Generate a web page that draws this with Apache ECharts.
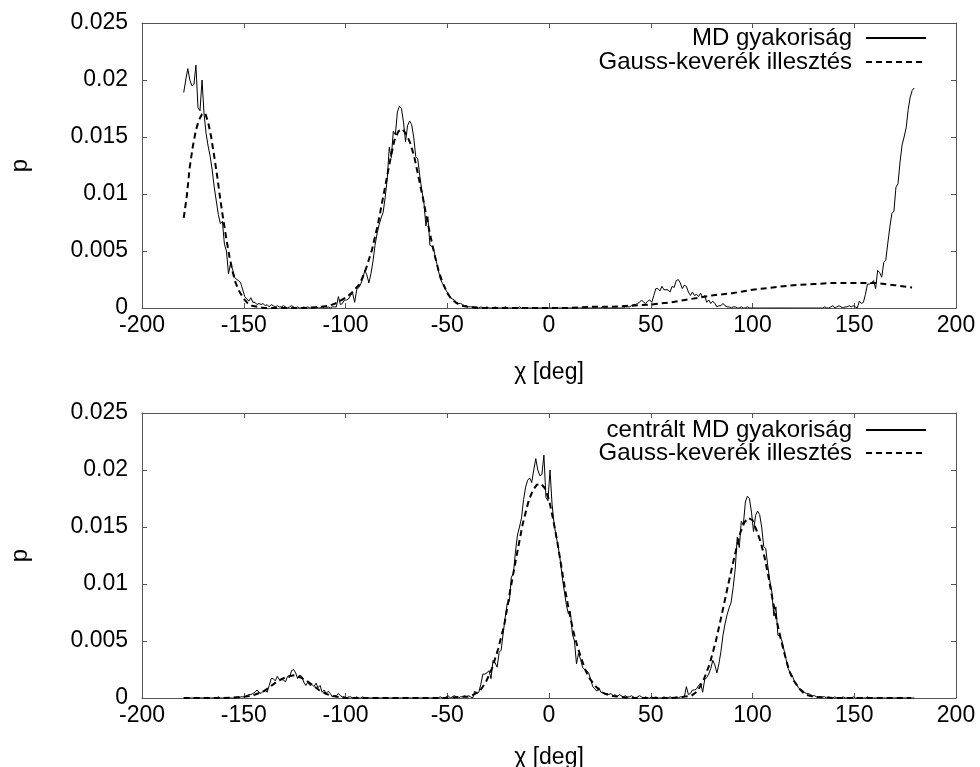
<!DOCTYPE html>
<html>
<head>
<meta charset="utf-8">
<title>χ szögeloszlás</title>
<script src="https://cdn.jsdelivr.net/npm/echarts@6/dist/echarts.min.js"></script>
<style>
  html, body { margin: 0; padding: 0; background: #fff; }
  #chart { width: 980px; height: 767px; }
</style>
</head>
<body>
<div id="chart"></div>
<script>
// Histogram of the chi dihedral from MD, 1 degree bins starting at -179.5
const binStart = -179.5;
const binWidth = 1;
const mdFreq = [
  /* -179.5 */ 0.0189,0.0200,0.0210,0.0200,0.0195,0.0196,0.0213,0.0176,0.0173,0.0200,
  /* -169.5 */ 0.0170,0.0153,0.0142,0.0133,0.0121,0.0106,0.0094,0.0082,0.0074,0.0076,
  /* -159.5 */ 0.0056,0.0050,0.0030,0.0039,0.0034,0.0027,0.0025,0.0024,0.0022,0.0016,
  /* -149.5 */ 0.0010,0.0008,0.0006,0.0009,0.0005,0.0005,0.0003,0.0004,0.0003,0.0004,
  /* -139.5 */ 0.0002,0.0003,0.0001,0.0003,0.0002,0.0001,0.0002,0.0001,0.0001,0.0002,
  /* -129.5 */ 0.0001,0,0.0001,0.0002,0.0001,0,0.0001,0,0,0.0001,
  /* -119.5 */ 0,0.0001,0,0,0,0.0001,0,0,0.0001,0,
  /* -109.5 */ 0,0.0001,0,0.0001,0.0001,0.0001,0.0010,0.0003,0.0004,0.0007,
  /*  -99.5 */ 0.0007,0.0008,0.0011,0.0013,0.0005,0.0016,0.0018,0.0021,0.0026,0.0033,
  /*  -89.5 */ 0.0029,0.0022,0.0030,0.0041,0.0055,0.0065,0.0073,0.0079,0.0084,0.0097,
  /*  -79.5 */ 0.0113,0.0141,0.0132,0.0155,0.0152,0.0172,0.0177,0.0175,0.0163,0.0146,
  /*  -69.5 */ 0.0160,0.0164,0.0161,0.0150,0.0133,0.0131,0.0116,0.0103,0.0093,0.0072,
  /*  -59.5 */ 0.0080,0.0055,0.0054,0.0050,0.0042,0.0034,0.0026,0.0022,0.0020,0.0015,
  /*  -49.5 */ 0.0013,0.0009,0.0008,0.0007,0.0005,0.0004,0.0004,0.0003,0.0002,0.0002,
  /*  -39.5 */ 0.0001,0.0001,0.0001,0.0001,0.0001,0,0.0001,0,0,0.0001,
  /*  -29.5 */ 0,0,0,0.0001,0,0,0,0,0.0001,0,
  /*  -19.5 */ 0,0,0,0,0,0.0001,0,0,0,0,
  /*   -9.5 */ 0,0,0,0,0,0,0,0,0,0,
  /*    0.5 */ 0,0,0,0,0,0,0,0,0,0,
  /*   10.5 */ 0,0,0,0,0,0,0,0,0,0,
  /*   20.5 */ 0,0,0,0,0,0,0.0001,0,0,0,
  /*   30.5 */ 0,0,0,0,0,0,0,0.0001,0.0001,0.0001,
  /*   40.5 */ 0.0002,0.0003,0.0003,0.0004,0.0005,0.0007,0.0005,0.0004,0.0006,0.0007,
  /*   50.5 */ 0.0005,0.0011,0.0017,0.0017,0.0015,0.0019,0.0016,0.0016,0.0016,0.0014,
  /*   60.5 */ 0.0019,0.0018,0.0024,0.0025,0.0022,0.0017,0.0020,0.0019,0.0014,0.0011,
  /*   70.5 */ 0.0014,0.0011,0.0012,0.0010,0.0013,0.0009,0.0011,0.0005,0.0007,0.0004,
  /*   80.5 */ 0.0006,0.0004,0.0001,0.0002,0.0002,0.0004,0.0002,0.0001,0.0001,0,
  /*   90.5 */ 0.0001,0.0001,0,0,0.0001,0,0,0.0001,0,0,
  /*  100.5 */ 0,0,0,0,0,0,0,0,0,0,
  /*  110.5 */ 0,0,0,0,0,0,0,0,0,0,
  /*  120.5 */ 0,0,0,0,0,0,0,0,0,0,
  /*  130.5 */ 0,0,0,0,0,0.0001,0,0,0.0001,0.0002,
  /*  140.5 */ 0,0.0001,0.0002,0.0001,0,0.0001,0.0001,0.0002,0.0001,0.0002,
  /*  150.5 */ 0.0001,0,0.0006,0.0004,0.0005,0.0012,0.0021,0.0021,0.0022,0.0024,
  /*  160.5 */ 0.0017,0.0033,0.0031,0.0027,0.0040,0.0042,0.0057,0.0071,0.0083,0.0085,
  /*  170.5 */ 0.0106,0.0109,0.0128,0.0143,0.0150,0.0158,0.0174,0.0185,0.0191,0.0193
];

// Centering: the same histogram rotated by this many degrees (periodic angle)
const centerShift = 171;

// Gaussian-mixture fit on the raw angle
const fitRawX = [-179.5,-178,-176.5,-175,-173.5,-172,-170.5,-169,-167.5,-166,-164.5,-163,-161.5,-160,-158.5,-157,-155.5,-154,-152,-150,-148,-146,-143,-140,-130,-120,-112,-108,-105,-102,-99,-96,-93,-90,-87,-84,-81,-78,-76,-74,-72,-70,-68,-66,-64,-62,-60,-58,-56,-54,-52,-50,-48,-46,-43,-40,-35,-25,-10,0,10,20,30,40,50,60,70,80,90,100,110,120,130,140,150,160,170,178.4];
const fitRawY = [0.0079,0.0098,0.0124,0.0142,0.0156,0.0165,0.0170,0.0171,0.0163,0.0150,0.0133,0.0115,0.0095,0.0077,0.0060,0.0045,0.0032,0.0022,0.0014,0.0008,0.0004,0.0002,0.0001,0,0,0,0.0001,0.0002,0.0004,0.0007,0.0010,0.0015,0.0021,0.0034,0.0051,0.0074,0.0102,0.0130,0.0147,0.0155,0.0157,0.0152,0.0144,0.0131,0.0114,0.0097,0.0078,0.0061,0.0045,0.0031,0.0021,0.0013,0.0008,0.0005,0.0002,0.0001,0,0,0,0,0,0.0001,0.0001,0.0002,0.0003,0.0005,0.0008,0.0011,0.0013,0.0016,0.0018,0.0020,0.0021,0.0022,0.0022,0.0022,0.0020,0.0018];

// Gaussian-mixture fit on the centered angle
const fitCenX = [-179.5,-170,-160,-150,-146,-143,-140,-137,-134,-131,-128,-125,-122,-119,-116,-113,-110,-107,-104,-100,-90,-80,-70,-60,-50,-44,-40,-37,-34,-31,-28,-25,-22,-19,-16,-13,-10,-8,-6,-4,-2,0,2,4,6,8,10,12,14,16,18,20,23,26,30,35,40,50,60,66,70,73,76,79,82,85,88,91,94,96,98,100,102,104,106,108,110,112,114,116,118,120,123,126,130,140,150,160,170,178];
const fitCenY = [0,0,0,0.0001,0.0002,0.0004,0.0006,0.0010,0.0014,0.0017,0.0019,0.0020,0.0018,0.0015,0.0011,0.0007,0.0004,0.0002,0.0001,0,0,0,0,0,0,0.0001,0.0001,0.0003,0.0006,0.0014,0.0026,0.0043,0.0064,0.0095,0.0124,0.0152,0.0173,0.0182,0.0187,0.0188,0.0184,0.0174,0.0157,0.0138,0.0116,0.0094,0.0075,0.0058,0.0045,0.0034,0.0024,0.0017,0.0010,0.0005,0.0002,0.0001,0,0,0,0.0001,0.0002,0.0006,0.0016,0.0030,0.0050,0.0074,0.0099,0.0123,0.0145,0.0154,0.0158,0.0156,0.0147,0.0137,0.0123,0.0105,0.0085,0.0067,0.0051,0.0037,0.0024,0.0016,0.0008,0.0003,0.0001,0,0,0,0,0];

// Axis ticks
const xMin = -200, xMax = 200, xStep = 50;
const yMin = 0, yMax = 0.025, yStep = 0.005;
const xTickLabels = ['-200','-150','-100','-50','0','50','100','150','200'];
const yTickLabels = ['0','0.005','0.01','0.015','0.02','0.025'];

const names = {
  mdRaw: 'MD gyakoriság',
  mdCen: 'centrált MD gyakoriság',
  fit: 'Gauss-keverék illesztés',
  xName: 'χ [deg]',
  yName: 'p'
};

// ---- build point lists ----
const mdRawPts = mdFreq.map((v, i) => [binStart + i * binWidth, v]);
const mdCenPts = mdRawPts.map(([x, v]) => {
  let c = x + centerShift;
  if (c >= 180) c -= 360;
  return [c, v];
}).sort((a, b) => a[0] - b[0]);
const fitRawPts = fitRawX.map((x, i) => [x, fitRawY[i]]);
const fitCenPts = fitCenX.map((x, i) => [x, fitCenY[i]]);

const FONT = '"Liberation Sans", Arial, Helvetica, sans-serif';
const AXIS_COLOR = '#555';
const GRID_LEFT = 142, GRID_W = 814, GRID_H = 285;
const GRID_TOPS = [23, 413];
const X_NAME_GAPS = [53, 48];

function xAxes(gi) {
  const base = {
    gridIndex: gi, type: 'value', min: xMin, max: xMax, interval: xStep,
    splitLine: { show: false },
    axisLine: { show: true, onZero: false, lineStyle: { color: AXIS_COLOR, width: 1 } },
    axisTick: { show: true, inside: true, length: 5, lineStyle: { color: AXIS_COLOR } }
  };
  return [
    Object.assign({}, base, {
      position: 'bottom',
      name: names.xName, nameLocation: 'middle', nameGap: X_NAME_GAPS[gi],
      nameTextStyle: { color: '#000', fontSize: 23, fontFamily: FONT },
      axisLabel: {
        margin: 6, color: '#000', fontSize: 23, fontFamily: FONT,
        formatter: v => xTickLabels[Math.round((v - xMin) / xStep)]
      }
    }),
    Object.assign({}, base, { position: 'top', axisLabel: { show: false } })
  ];
}

function yAxes(gi) {
  const base = {
    gridIndex: gi, type: 'value', min: yMin, max: yMax, interval: yStep,
    splitLine: { show: false },
    axisLine: { show: true, onZero: false, lineStyle: { color: AXIS_COLOR, width: 1 } },
    axisTick: { show: true, inside: true, length: 5, lineStyle: { color: AXIS_COLOR } }
  };
  return [
    Object.assign({}, base, {
      position: 'left',
      name: names.yName, nameLocation: 'middle', nameGap: 110, nameRotate: 90,
      nameTextStyle: { color: '#000', fontSize: 24, fontFamily: FONT },
      axisLabel: {
        margin: 14, color: '#000', fontSize: 23, fontFamily: FONT,
        formatter: v => yTickLabels[Math.round((v - yMin) / yStep)]
      }
    }),
    Object.assign({}, base, { position: 'right', axisLabel: { show: false } })
  ];
}

// Legend entries: text on the left, line sample on the right (no marker)
function legendItem(name, top) {
  return {
    data: [name], right: 53, top: top, orient: 'horizontal', align: 'right',
    itemWidth: 60, itemHeight: 14, padding: 0, selectedMode: false,
    itemStyle: { opacity: 0 },
    textStyle: { color: '#000', fontSize: 24, fontFamily: FONT, padding: [0, 9, 0, 0] }
  };
}

const solid = { color: '#000', width: 1 };
const dashed = { color: '#000', width: 2, type: [6, 4] };

function lineSeries(name, data, xi, yi, style) {
  return {
    name: name, type: 'line', data: data, xAxisIndex: xi, yAxisIndex: yi,
    symbol: 'none', showSymbol: false, smooth: false,
    lineStyle: style, itemStyle: { color: '#000' }, silent: true,
    animation: false, z: style.type ? 3 : 2
  };
}

const chart = echarts.init(document.getElementById('chart'), null, { renderer: 'canvas' });
chart.setOption({
  backgroundColor: '#fff',
  animation: false,
  grid: GRID_TOPS.map(t => ({
    left: GRID_LEFT, top: t, width: GRID_W, height: GRID_H,
    containLabel: false, outerBoundsMode: 'none'
  })),
  xAxis: xAxes(0).concat(xAxes(1)),
  yAxis: yAxes(0).concat(yAxes(1)),
  legend: [
    legendItem(names.mdRaw, 26),
    legendItem(names.fit, 50),
    legendItem(names.mdCen, 418),
    legendItem(names.fit, 441)
  ],
  series: [
    lineSeries(names.mdRaw, mdRawPts, 0, 0, solid),
    lineSeries(names.fit, fitRawPts, 0, 0, dashed),
    lineSeries(names.mdCen, mdCenPts, 2, 2, solid),
    lineSeries(names.fit, fitCenPts, 2, 2, dashed)
  ]
});
</script>
</body>
</html>
